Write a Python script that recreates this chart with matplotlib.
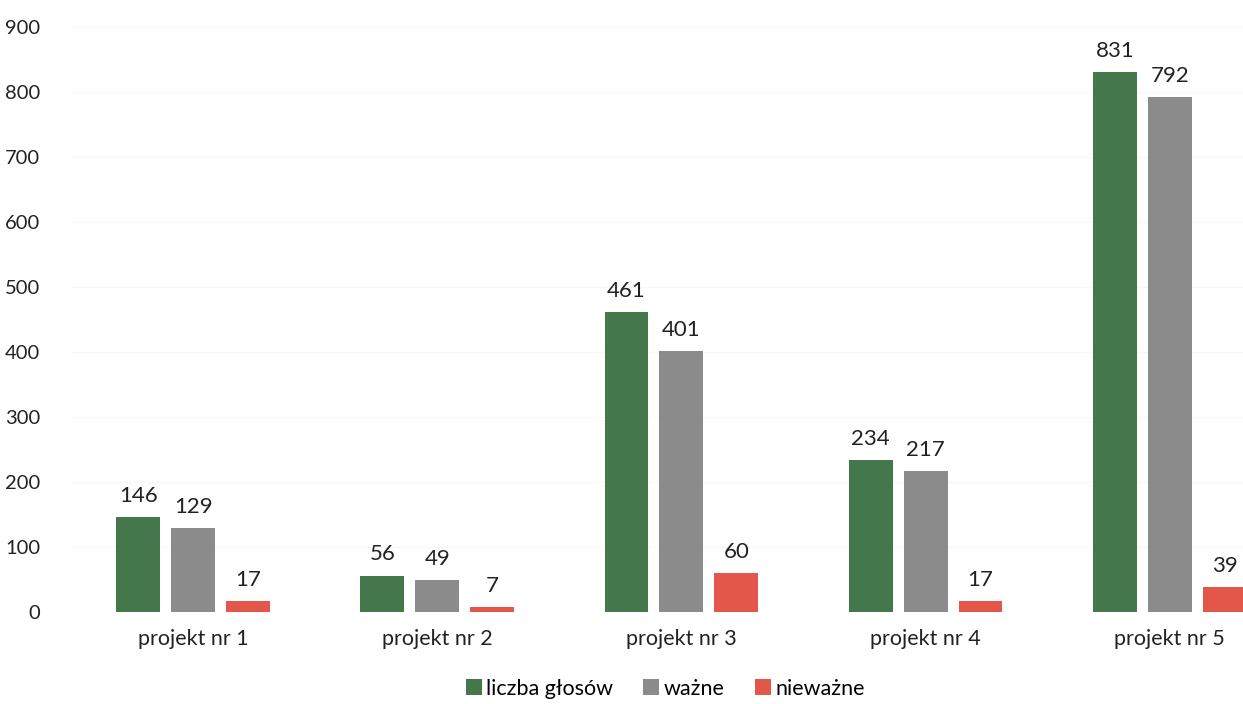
import matplotlib
matplotlib.use("Agg")
import matplotlib.pyplot as plt
import numpy as np

categories = ["projekt nr 1", "projekt nr 2", "projekt nr 3", "projekt nr 4", "projekt nr 5"]
liczba = [146, 56, 461, 234, 831]
wazne = [129, 49, 401, 217, 792]
niewazne = [17, 7, 60, 17, 39]
series_names = ["liczba głosów", "ważne", "nieważne"]
colors = ["#44784c", "#8b8b8b", "#e2574a"]
yticks = [0, 100, 200, 300, 400, 500, 600, 700, 800, 900]

plt.rcParams['font.family'] = ['Lato', 'DejaVu Sans']

fig = plt.figure(figsize=(12.43, 7.04), dpi=100)
W, H = 1243, 704
left_px, right_px = 71, 1243
bottom_px, top_px = 92, 677
ax = fig.add_axes([left_px / W, bottom_px / H, (right_px - left_px) / W, (top_px - bottom_px) / H])

x = np.arange(len(categories))
bw = 0.18
step = 0.225
for i, (vals, name, c) in enumerate(zip([liczba, wazne, niewazne], series_names, colors)):
    pos = x + (i - 1) * step
    bars = ax.bar(pos, vals, width=bw, color=c, label=name, zorder=2)
    for b, v in zip(bars, vals):
        ax.annotate(str(v), (b.get_x() + b.get_width() / 2, v), xytext=(0, 8),
                    textcoords="offset points", ha="center", va="bottom",
                    fontsize=16, color="#222222")

ax.set_xlim(-0.5, 4.30)
ax.set_ylim(0, 900)
ax.set_yticks(yticks)
ax.set_xticks(x)
ax.set_xticklabels(categories)
for s in ax.spines.values():
    s.set_visible(False)
ax.tick_params(axis='x', length=0, labelsize=15.5, colors="#222222", pad=12)
ax.tick_params(axis='y', length=0, labelsize=14.5, colors="#222222", pad=22)
for lab in ax.get_yticklabels():
    lab.set_horizontalalignment('right')
ax.grid(axis='y', color="#f7f7f7", linewidth=0.8, zorder=0)
ax.set_axisbelow(True)

handles, labels = ax.get_legend_handles_labels()
fig.legend(handles, labels, loc="lower center", bbox_to_anchor=(0.535, -0.02), ncol=3,
           frameon=False, fontsize=15.5, handlelength=0.75, handleheight=0.75,
           handletextpad=0.2, columnspacing=1.4)

fig.savefig("out.png", dpi=100)
